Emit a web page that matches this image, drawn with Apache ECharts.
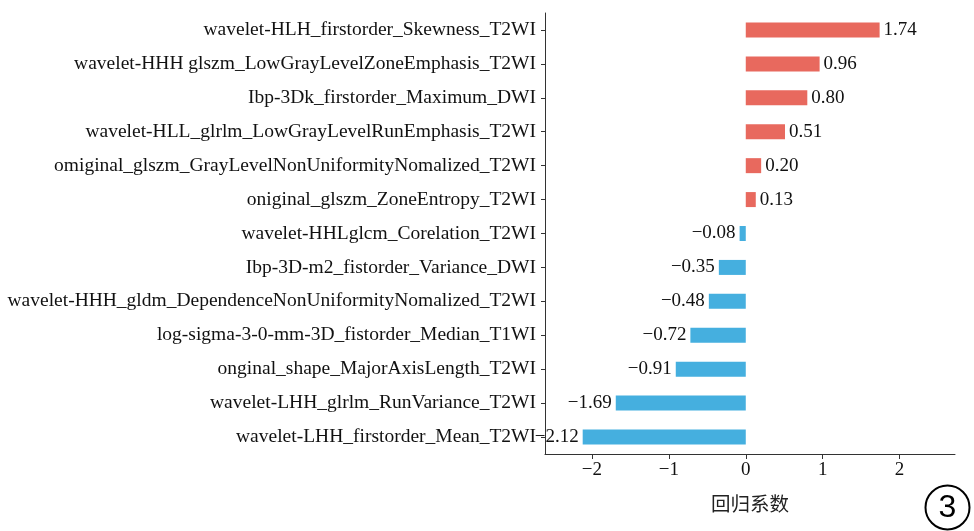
<!DOCTYPE html>
<html><head><meta charset="utf-8">
<script src="https://cdn.jsdelivr.net/npm/echarts@6/dist/echarts.min.js"></script>
<style>html,body{margin:0;padding:0;background:#fff}#c{width:974px;height:531px}</style>
</head><body><div id="c"></div>
<script>
var categories = [
  "wavelet-HLH_firstorder_Skewness_T2WI",
  "wavelet-HHH glszm_LowGrayLevelZoneEmphasis_T2WI",
  "Ibp-3Dk_firstorder_Maximum_DWI",
  "wavelet-HLL_glrlm_LowGrayLevelRunEmphasis_T2WI",
  "omiginal_glszm_GrayLevelNonUniformityNomalized_T2WI",
  "oniginal_glszm_ZoneEntropy_T2WI",
  "wavelet-HHLglcm_Corelation_T2WI",
  "Ibp-3D-m2_fistorder_Variance_DWI",
  "wavelet-HHH_gldm_DependenceNonUniformityNomalized_T2WI",
  "log-sigma-3-0-mm-3D_fistorder_Median_T1WI",
  "onginal_shape_MajorAxisLength_T2WI",
  "wavelet-LHH_glrlm_RunVariance_T2WI",
  "wavelet-LHH_firstorder_Mean_T2WI"
];
var coefficients = [1.74, 0.96, 0.80, 0.51, 0.20, 0.13, -0.08, -0.35, -0.48, -0.72, -0.91, -1.69, -2.12];
var xTicks = [-2, -1, 0, 1, 2];
var axisTitle = "回归系数";

var POS = '#e8695e', NEG = '#45afdf';
var SERIF = '"Liberation Serif","DejaVu Serif",serif';
function fmt(v){ return String(v).replace('-', '\u2212'); }

var chart = echarts.init(document.getElementById('c'), null, {renderer:'canvas'});
chart.setOption({
  animation: false,
  grid: {left: 545, right: 19, top: 13, bottom: 77, containLabel: false},
  xAxis: {
    type: 'value', min: -2.61, max: 2.72,
    axisLine: {show: true, lineStyle: {color: '#333', width: 1}},
    axisTick: {show: true, length: 5, lineStyle: {color: '#333'}, customValues: xTicks},
    axisLabel: {color: '#111', fontFamily: SERIF, fontSize: 19, margin: 7, customValues: xTicks,
      formatter: function(v){ return fmt(v); }},
    splitLine: {show: false},
    name: axisTitle, nameLocation: 'middle', nameGap: 40,
    nameTextStyle: {color: '#222', fontFamily: '"Noto Sans CJK SC",sans-serif', fontSize: 19.5}
  },
  yAxis: {
    type: 'category', inverse: true, data: categories,
    axisLine: {show: true, onZero: false, lineStyle: {color: '#333', width: 1}},
    axisTick: {show: true, alignWithLabel: true, length: 4, lineStyle: {color: '#333'}},
    axisLabel: {color: '#111', fontFamily: SERIF, fontSize: 19.5, margin: 9}
  },
  series: [{
    type: 'bar', barWidth: 15,
    data: coefficients.map(function(v){
      return {value: v, itemStyle: {color: v >= 0 ? POS : NEG},
        label: {position: v >= 0 ? 'right' : 'left'}};
    }),
    label: {show: true, distance: 4, color: '#111', fontFamily: SERIF, fontSize: 19,
      formatter: function(p){ return fmt(p.value.toFixed(2)); }}
  }],
  graphic: [
    {type: 'circle', shape: {cx: 947.5, cy: 507.5, r: 22}, style: {fill: 'none', stroke: '#000', lineWidth: 2}},
    {type: 'text', x: 947.5, y: 508, style: {text: '3', fill: '#000', fontSize: 32, fontFamily: '"Liberation Sans",Arial,sans-serif', align: 'center', verticalAlign: 'middle'}}
  ]
});
</script></body></html>
